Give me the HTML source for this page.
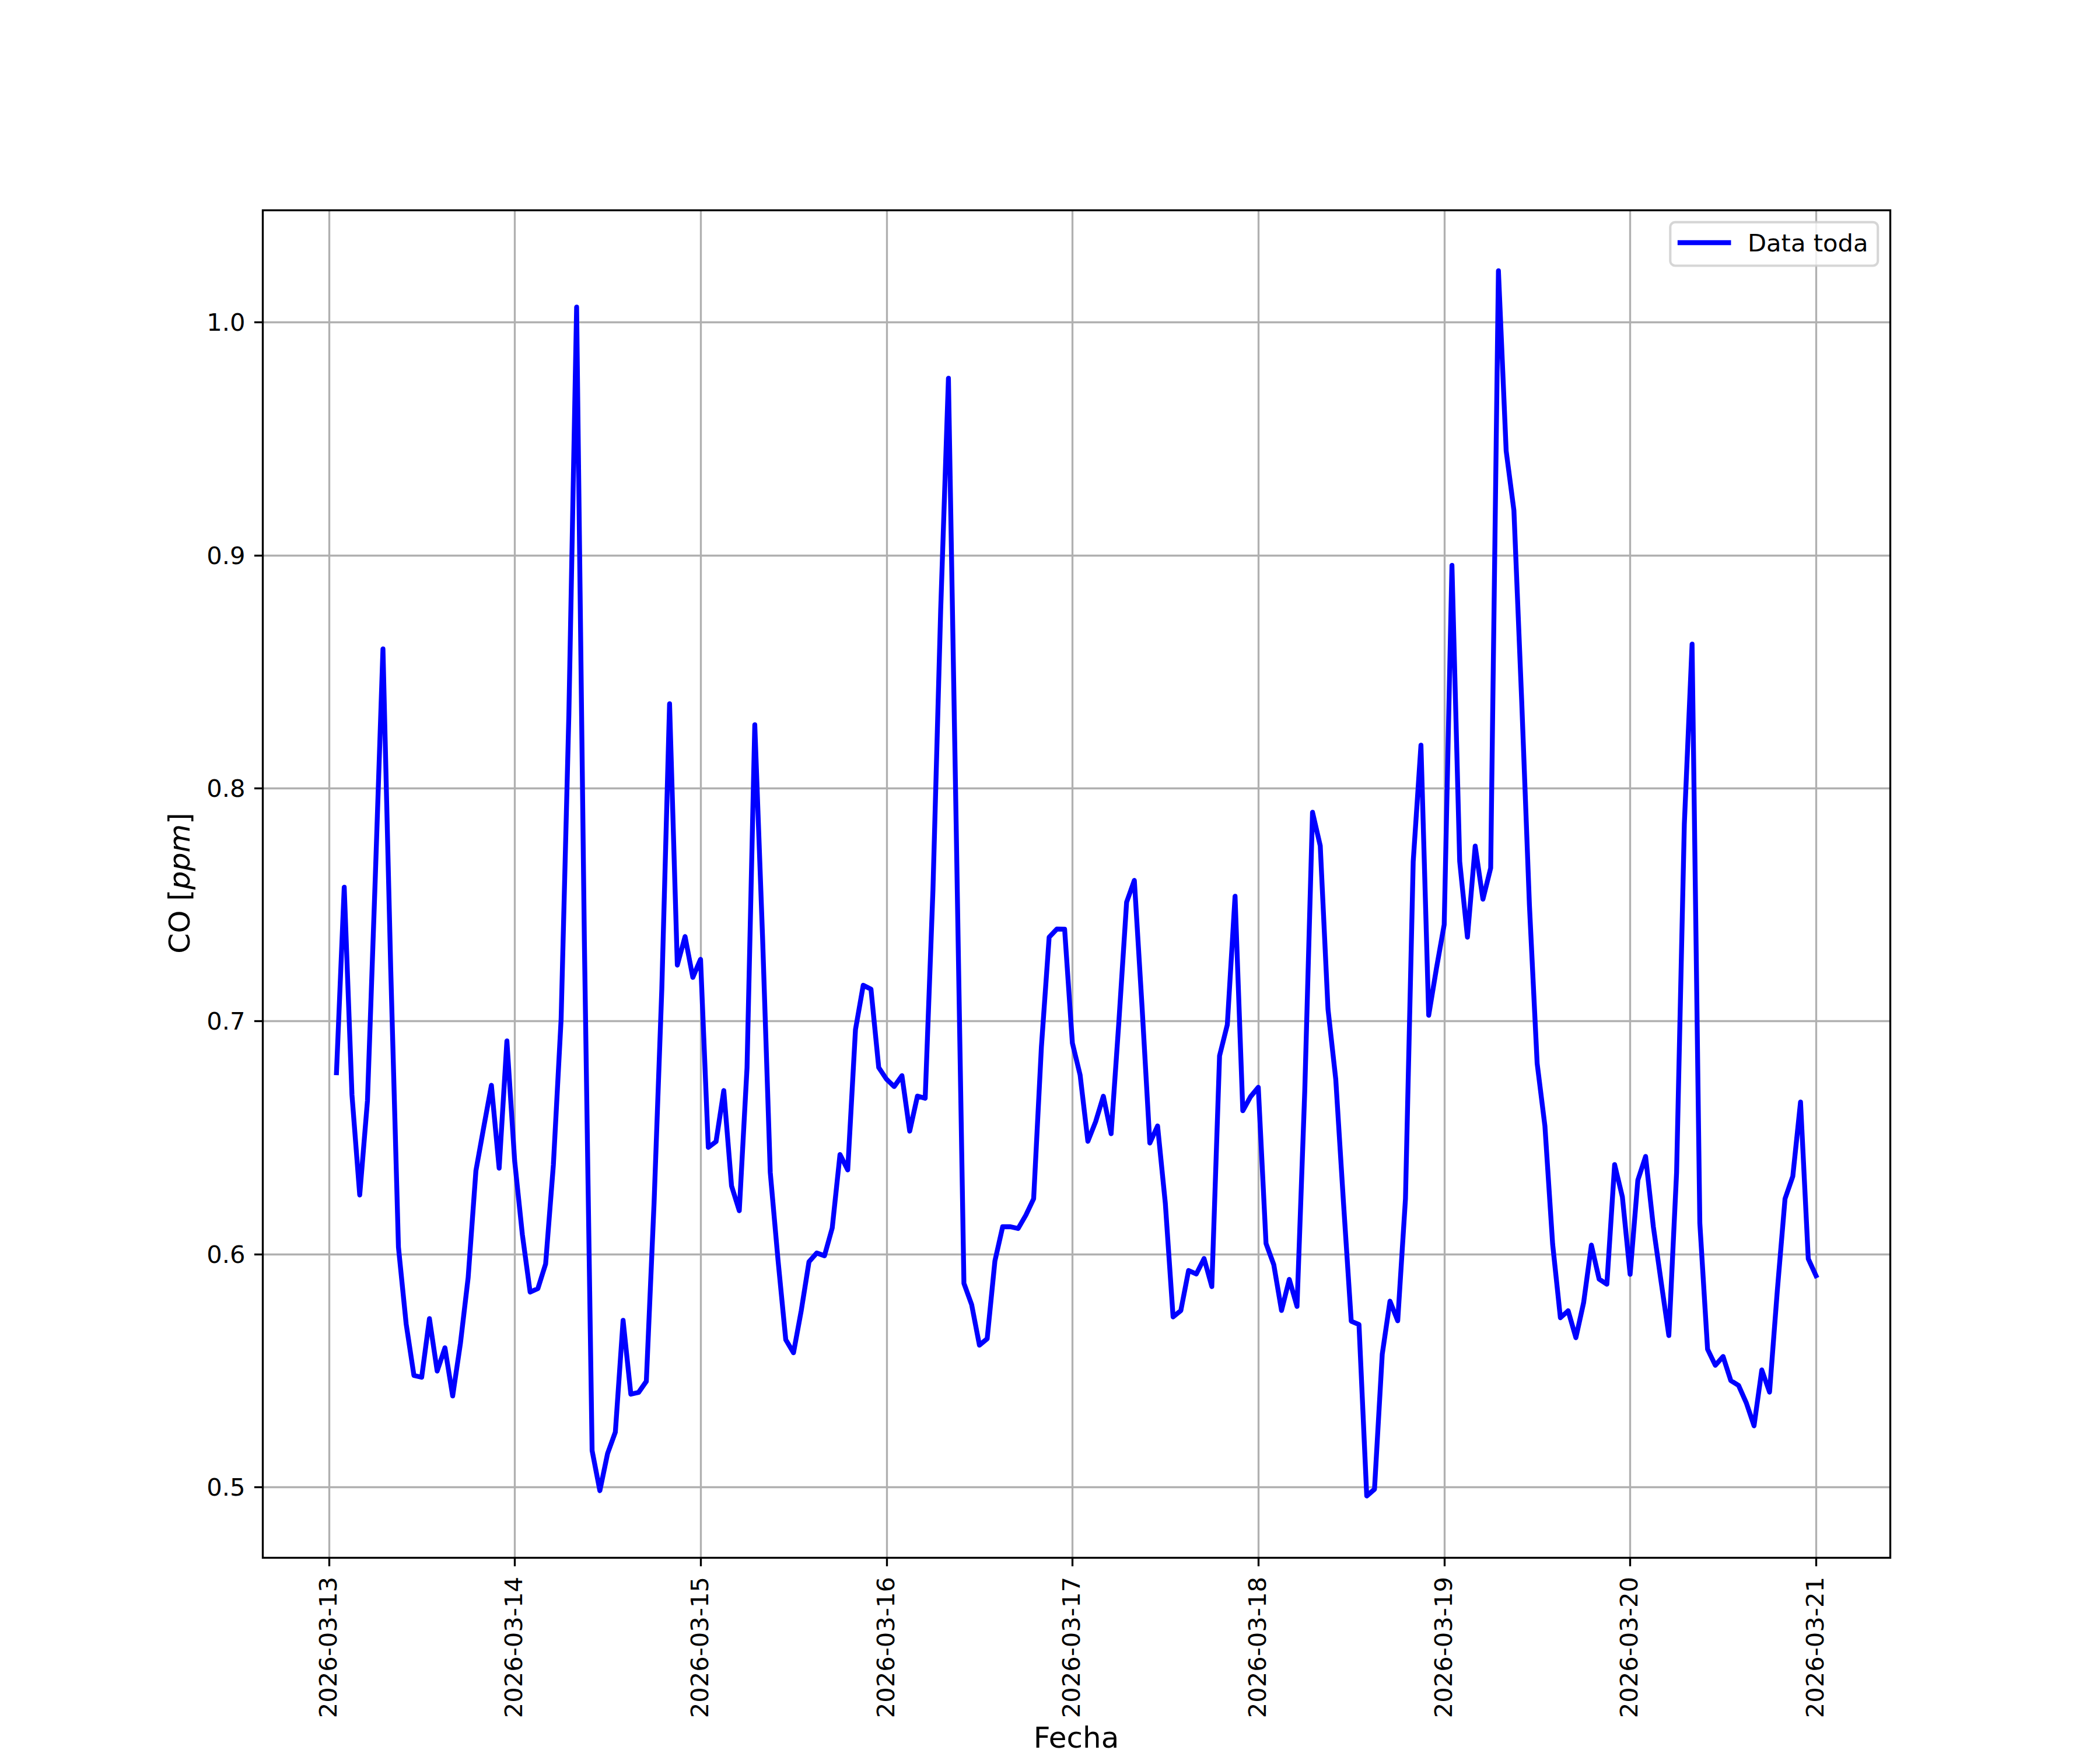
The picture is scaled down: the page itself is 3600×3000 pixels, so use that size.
<!DOCTYPE html>
<html lang="es"><head><meta charset="utf-8"><title>CO [ppm] - Fecha</title>
<style>html,body{margin:0;padding:0;background:#fff}svg{display:block}text{font-family:"DejaVu Sans","Liberation Sans",sans-serif;fill:#000}</style></head><body>
<svg width="3600" height="3000" viewBox="0 0 3600 3000">
<rect width="3600" height="3000" fill="#fff"/>
<g stroke="#b0b0b0" stroke-width="3.333" fill="none">
<line x1="564.50" y1="360.5" x2="564.50" y2="2670.5"/>
<line x1="882.50" y1="360.5" x2="882.50" y2="2670.5"/>
<line x1="1201.50" y1="360.5" x2="1201.50" y2="2670.5"/>
<line x1="1520.50" y1="360.5" x2="1520.50" y2="2670.5"/>
<line x1="1838.50" y1="360.5" x2="1838.50" y2="2670.5"/>
<line x1="2157.50" y1="360.5" x2="2157.50" y2="2670.5"/>
<line x1="2476.50" y1="360.5" x2="2476.50" y2="2670.5"/>
<line x1="2794.50" y1="360.5" x2="2794.50" y2="2670.5"/>
<line x1="3113.50" y1="360.5" x2="3113.50" y2="2670.5"/>
<line x1="450.5" y1="552.50" x2="3240.5" y2="552.50"/>
<line x1="450.5" y1="952.50" x2="3240.5" y2="952.50"/>
<line x1="450.5" y1="1351.50" x2="3240.5" y2="1351.50"/>
<line x1="450.5" y1="1750.50" x2="3240.5" y2="1750.50"/>
<line x1="450.5" y1="2150.50" x2="3240.5" y2="2150.50"/>
<line x1="450.5" y1="2549.50" x2="3240.5" y2="2549.50"/>
</g>
<clipPath id="c"><rect x="450.5" y="360.5" width="2790.0" height="2310.0"/></clipPath>
<polyline clip-path="url(#c)" fill="none" stroke="#0000ff" stroke-width="8.333" stroke-linejoin="round" stroke-linecap="square" points="576.82,1839.0 590.10,1521.0 603.38,1877.0 616.66,2048.5 629.94,1887.0 643.22,1508.0 656.50,1112.5 669.78,1660.0 683.05,2138.0 696.33,2270.0 709.61,2358.0 722.89,2361.0 736.17,2260.5 749.45,2350.5 762.73,2310.5 776.01,2393.2 789.29,2303.0 802.57,2190.0 815.85,2007.0 829.13,1933.0 842.41,1860.5 855.69,2002.5 868.97,1784.5 882.25,1990.0 895.52,2116.7 908.80,2215.0 922.08,2209.0 935.36,2166.7 948.64,1997.0 961.92,1747.0 975.20,1225.0 988.48,526.5 1001.76,1612.0 1015.04,2486.7 1028.32,2555.5 1041.60,2491.7 1054.88,2455.0 1068.16,2263.5 1081.44,2390.0 1094.72,2387.0 1107.99,2368.0 1121.27,2062.0 1134.55,1695.0 1147.83,1206.5 1161.11,1654.5 1174.39,1605.5 1187.67,1675.5 1200.95,1644.5 1214.23,1967.0 1227.51,1957.0 1240.79,1869.5 1254.07,2033.0 1267.35,2075.5 1280.63,1830.0 1293.91,1242.5 1307.19,1605.0 1320.46,2010.0 1333.74,2160.0 1347.02,2296.7 1360.30,2319.0 1373.58,2246.7 1386.86,2163.0 1400.14,2148.0 1413.42,2152.7 1426.70,2105.0 1439.98,1979.2 1453.26,2005.5 1466.54,1765.0 1479.82,1689.0 1493.10,1695.7 1506.38,1830.0 1519.66,1850.0 1532.93,1862.7 1546.21,1844.0 1559.49,1939.2 1572.77,1879.0 1586.05,1882.7 1599.33,1526.0 1612.61,1045.0 1625.89,648.5 1639.17,1415.0 1652.45,2200.0 1665.73,2236.7 1679.01,2306.0 1692.29,2295.0 1705.57,2161.7 1718.85,2103.0 1732.13,2103.0 1745.40,2106.0 1758.68,2083.0 1771.96,2055.0 1785.24,1795.0 1798.52,1606.7 1811.80,1592.7 1825.08,1593.0 1838.36,1788.0 1851.64,1843.0 1864.92,1956.5 1878.20,1923.0 1891.48,1879.2 1904.76,1943.5 1918.04,1752.0 1931.32,1546.7 1944.60,1509.2 1957.87,1727.0 1971.15,1959.5 1984.43,1930.2 1997.71,2063.0 2010.99,2257.5 2024.27,2246.7 2037.55,2178.0 2050.83,2184.0 2064.11,2157.5 2077.39,2205.5 2090.67,1810.0 2103.95,1756.7 2117.23,1536.5 2130.51,1904.2 2143.79,1880.0 2157.07,1864.0 2170.34,2131.7 2183.62,2168.0 2196.90,2246.5 2210.18,2193.2 2223.46,2239.5 2236.74,1870.0 2250.02,1392.5 2263.30,1450.0 2276.58,1730.0 2289.86,1850.0 2303.14,2062.0 2316.42,2265.0 2329.70,2270.7 2342.98,2564.5 2356.26,2553.0 2369.54,2321.7 2382.81,2230.5 2396.09,2264.2 2409.37,2055.0 2422.65,1476.7 2435.93,1277.5 2449.21,1740.5 2462.49,1660.0 2475.77,1585.0 2489.05,969.2 2502.33,1476.7 2515.61,1606.5 2528.89,1450.5 2542.17,1541.5 2555.45,1488.0 2568.73,464.2 2582.01,773.0 2595.28,875.0 2608.56,1200.0 2621.84,1551.0 2635.12,1823.0 2648.40,1930.0 2661.68,2133.0 2674.96,2259.0 2688.24,2247.0 2701.52,2293.2 2714.80,2233.0 2728.08,2134.5 2741.36,2192.7 2754.64,2201.5 2767.92,1996.5 2781.20,2051.7 2794.48,2184.5 2807.75,2023.0 2821.03,1982.5 2834.31,2103.0 2847.59,2197.0 2860.87,2289.5 2874.15,2010.0 2887.43,1413.0 2900.71,1104.2 2913.99,2096.7 2927.27,2313.0 2940.55,2340.5 2953.83,2325.4 2967.11,2366.7 2980.39,2375.0 2993.67,2405.0 3006.95,2444.2 3020.22,2348.5 3033.50,2386.5 3046.78,2213.0 3060.06,2055.0 3073.34,2016.7 3086.62,1889.2 3099.90,2158.0 3113.18,2187.0"/>
<g stroke="#000" stroke-width="3.333">
<line x1="564.50" y1="2670.5" x2="564.50" y2="2685.08"/>
<line x1="882.50" y1="2670.5" x2="882.50" y2="2685.08"/>
<line x1="1201.50" y1="2670.5" x2="1201.50" y2="2685.08"/>
<line x1="1520.50" y1="2670.5" x2="1520.50" y2="2685.08"/>
<line x1="1838.50" y1="2670.5" x2="1838.50" y2="2685.08"/>
<line x1="2157.50" y1="2670.5" x2="2157.50" y2="2685.08"/>
<line x1="2476.50" y1="2670.5" x2="2476.50" y2="2685.08"/>
<line x1="2794.50" y1="2670.5" x2="2794.50" y2="2685.08"/>
<line x1="3113.50" y1="2670.5" x2="3113.50" y2="2685.08"/>
<line x1="450.5" y1="552.50" x2="435.92" y2="552.50"/>
<line x1="450.5" y1="952.50" x2="435.92" y2="952.50"/>
<line x1="450.5" y1="1351.50" x2="435.92" y2="1351.50"/>
<line x1="450.5" y1="1750.50" x2="435.92" y2="1750.50"/>
<line x1="450.5" y1="2150.50" x2="435.92" y2="2150.50"/>
<line x1="450.5" y1="2549.50" x2="435.92" y2="2549.50"/>
</g>
<rect x="450.5" y="360.5" width="2790.0" height="2310.0" fill="none" stroke="#000" stroke-width="3.333" stroke-linejoin="miter"/>
<g font-size="41.667" text-anchor="end">
<text x="420.5" y="567.20">1.0</text>
<text x="420.5" y="967.20">0.9</text>
<text x="420.5" y="1366.20">0.8</text>
<text x="420.5" y="1765.20">0.7</text>
<text x="420.5" y="2165.20">0.6</text>
<text x="420.5" y="2564.20">0.5</text>
</g>
<g font-size="41.667" text-anchor="end">
<text transform="translate(577.40,2703.1) rotate(-90)">2026-03-13</text>
<text transform="translate(895.40,2703.1) rotate(-90)">2026-03-14</text>
<text transform="translate(1214.40,2703.1) rotate(-90)">2026-03-15</text>
<text transform="translate(1533.40,2703.1) rotate(-90)">2026-03-16</text>
<text transform="translate(1851.40,2703.1) rotate(-90)">2026-03-17</text>
<text transform="translate(2170.40,2703.1) rotate(-90)">2026-03-18</text>
<text transform="translate(2489.40,2703.1) rotate(-90)">2026-03-19</text>
<text transform="translate(2807.40,2703.1) rotate(-90)">2026-03-20</text>
<text transform="translate(3126.40,2703.1) rotate(-90)">2026-03-21</text>
</g>
<text x="1845" y="2996.0" font-size="50" text-anchor="middle">Fecha</text>
<text transform="translate(325.0,1514.0) rotate(-90)" font-size="50" text-anchor="middle">CO [<tspan font-style="italic">ppm</tspan>]</text>
<rect x="2863.3" y="380.8" width="355.9" height="74.7" rx="8.33" ry="8.33" fill="#fff" fill-opacity="0.8" stroke="#cccccc" stroke-opacity="0.8" stroke-width="4.167"/>
<line x1="2880" y1="416" x2="2963.3" y2="416" stroke="#0000ff" stroke-width="8.333" stroke-linecap="square"/>
<text x="2996" y="430.5" font-size="41.667">Data toda</text>
</svg></body></html>
